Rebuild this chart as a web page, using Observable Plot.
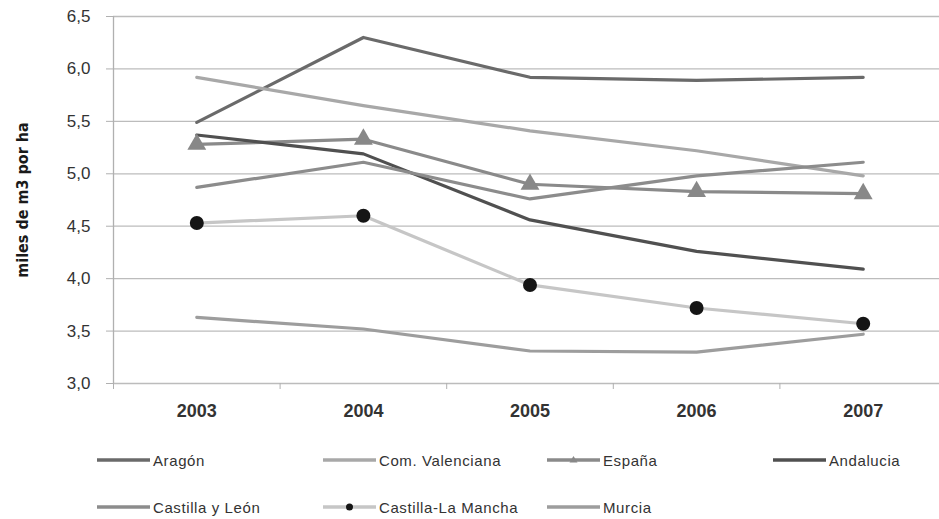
<!DOCTYPE html>
<html>
<head>
<meta charset="utf-8">
<script src="https://cdn.jsdelivr.net/npm/d3@7"></script>
<script src="https://cdn.jsdelivr.net/npm/@observablehq/plot@0.6"></script>
<style>
  html, body { margin: 0; padding: 0; background: #fff; }
  #wrap { width: 939px; height: 519px; position: relative; overflow: hidden; }
  #legend { position: relative; width: 939px; height: 84px; font-family: "Liberation Sans", Arial, sans-serif; font-size: 15px; color: #333; letter-spacing: 0.6px; }
  .item { position: absolute; display: flex; align-items: center; height: 20px; }
  .item svg { display: block; margin-right: 3px; }
</style>
</head>
<body>
<div id="wrap">
  <div id="chart"></div>
  <div id="legend"></div>
</div>
<script>
// ---- data ----
const years = [2003, 2004, 2005, 2006, 2007];
const seriesNames = ["Aragón", "Com. Valenciana", "España", "Andalucia", "Castilla y León", "Castilla-La Mancha", "Murcia"];
const aragon = [5.49, 6.30, 5.92, 5.89, 5.92];
const comValenciana = [5.92, 5.65, 5.41, 5.22, 4.98];
const espana = [5.28, 5.33, 4.90, 4.83, 4.81];
const andalucia = [5.37, 5.19, 4.56, 4.26, 4.09];
const castillaLeon = [4.87, 5.11, 4.76, 4.98, 5.11];
const castillaLaMancha = [4.53, 4.60, 3.94, 3.72, 3.57];
const murcia = [3.63, 3.52, 3.31, 3.30, 3.47];
const yTicks = [3.0, 3.5, 4.0, 4.5, 5.0, 5.5, 6.0, 6.5];
const yTickLabels = ["3,0", "3,5", "4,0", "4,5", "5,0", "5,5", "6,0", "6,5"];
const yLabel = "miles de m3 por ha";

// ---- styles ----
const colors = ["#6a6a6a", "#a8a8a8", "#8a8a8a", "#505050", "#8c8c8c", "#c6c6c6", "#9d9d9d"];
const markers = [null, null, "triangle", null, null, "circle", null];
const markerFill = [null, null, "#888888", null, null, "#151515", null];

const allValues = [aragon, comValenciana, espana, andalucia, castillaLeon, castillaLaMancha, murcia];
const rows = [];
seriesNames.forEach((name, i) => {
  years.forEach((yr, j) => rows.push({series: name, idx: i, year: yr, value: allValues[i][j]}));
});
const boundaries = [years[0] - 0.5, ...years.map(y => y + 0.5)];
const labelMap = new Map(yTicks.map((t, i) => [t, yTickLabels[i]]));

const marks = [
  Plot.ruleY(yTicks, {stroke: "#bcbcbc", strokeWidth: 1.3}),
  Plot.ruleX([boundaries[0]], {y1: yTicks[0], y2: yTicks[yTicks.length - 1], stroke: "#b0b0b0", strokeWidth: 1.3}),
  Plot.axisY(yTicks, {tickSize: 7, tickPadding: 16, tickFormat: d => labelMap.get(d), stroke: "#b0b0b0", fill: "#333", fontSize: 17, fontFamily: "Liberation Sans, Arial, sans-serif", style: "letter-spacing:1.2px", label: null}),
  Plot.axisX(boundaries, {tickSize: 6, tickFormat: () => "", stroke: "#b0b0b0", label: null}),
  Plot.axisX(years, {tickSize: 0, tickPadding: 21, tickFormat: d => String(d), fill: "#333", fontSize: 18, fontWeight: "bold", fontFamily: "Liberation Sans, Arial, sans-serif", style: "letter-spacing:1.4px", label: null}),
  Plot.text([yLabel], {frameAnchor: "left", dx: -91, rotate: -90, textAnchor: "middle", text: d => d, fontSize: 16, fontWeight: "bold", fill: "#1a1a1a", fontFamily: "DejaVu Sans Condensed, DejaVu Sans, sans-serif", style: "font-stretch: condensed"})
];
seriesNames.forEach((name, i) => {
  const d = rows.filter(r => r.idx === i);
  marks.push(Plot.line(d, {x: "year", y: "value", stroke: colors[i], strokeWidth: 3.2}));
});
seriesNames.forEach((name, i) => {
  if (!markers[i]) return;
  const d = rows.filter(r => r.idx === i);
  marks.push(Plot.dot(d, {x: "year", y: "value", symbol: markers[i], r: 7, fill: markerFill[i], stroke: "none"}));
});

const chart = Plot.plot({
  width: 939,
  height: 435,
  marginTop: 16,
  marginBottom: 52,
  marginLeft: 113,
  marginRight: 0,
  x: {domain: [boundaries[0], boundaries[boundaries.length - 1]], range: [113, 946]},
  y: {domain: [yTicks[0], yTicks[yTicks.length - 1]]},
  style: {background: "transparent", overflow: "visible"},
  marks
});
document.getElementById("chart").appendChild(chart);

// ---- legend ----
const legend = document.getElementById("legend");
const colX = [97, 323, 547, 773];
const rowY = [15, 62];
seriesNames.forEach((name, i) => {
  const col = i % 4, row = Math.floor(i / 4);
  const item = document.createElement("div");
  item.className = "item";
  item.style.left = colX[col] + "px";
  item.style.top = rowY[row] + "px";
  let sw = `<svg width="53" height="20"><line x1="0" y1="10" x2="53" y2="10" stroke="${colors[i]}" stroke-width="3.5"/>`;
  if (markers[i] === "triangle") sw += `<path d="M26.5,6 L30.5,12.5 L22.5,12.5 Z" fill="${markerFill[i]}"/>`;
  if (markers[i] === "circle") sw += `<circle cx="26.5" cy="10" r="3.5" fill="${markerFill[i]}"/>`;
  sw += `</svg>`;
  item.innerHTML = sw + `<span>${name}</span>`;
  legend.appendChild(item);
});
</script>
</body>
</html>
